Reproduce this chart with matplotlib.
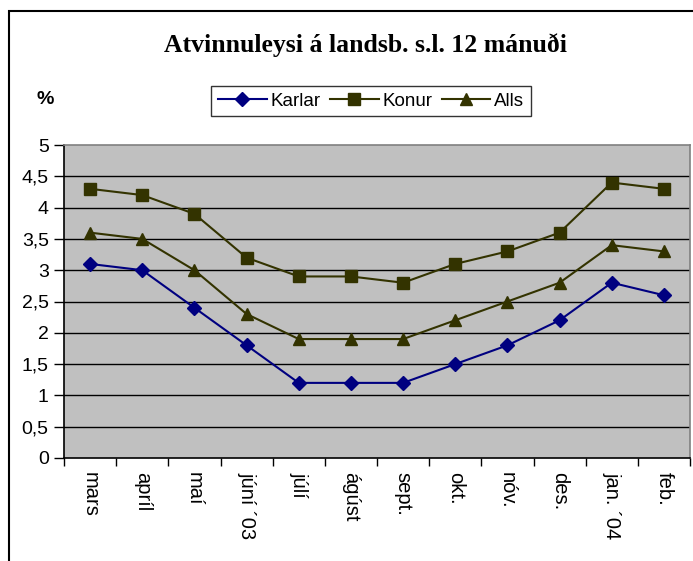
import matplotlib
matplotlib.use("Agg")
import matplotlib.pyplot as plt
from matplotlib.patches import Rectangle
import numpy as np

months = ["mars", "apríl", "maí", "júní ´03", "júlí", "ágúst", "sept.", "okt.", "nóv.", "des.", "jan. ´04", "feb."]
karlar = [3.1, 3.0, 2.4, 1.8, 1.2, 1.2, 1.2, 1.5, 1.8, 2.2, 2.8, 2.6]
konur = [4.3, 4.2, 3.9, 3.2, 2.9, 2.9, 2.8, 3.1, 3.3, 3.6, 4.4, 4.3]
alls = [3.6, 3.5, 3.0, 2.3, 1.9, 1.9, 1.9, 2.2, 2.5, 2.8, 3.4, 3.3]
yticks = [0, 0.5, 1, 1.5, 2, 2.5, 3, 3.5, 4, 4.5, 5]
ylabels = ["0", "0,5", "1", "1,5", "2", "2,5", "3", "3,5", "4", "4,5", "5"]

W, H = 693, 561
fig = plt.figure(figsize=(W/100, H/100), dpi=100)
fig.patch.set_facecolor("white")

# outer frame
fig.add_artist(Rectangle((9/W, -0.1), 2, 1.1 - 11/H, transform=fig.transFigure,
                         fill=False, edgecolor="black", linewidth=1.5))

ax = fig.add_axes([64/W, (H-458)/H, (690-64)/W, (458-145)/H])
ax.set_facecolor("#C0C0C0")
x = np.arange(len(months))

ax.plot(x, karlar, color="#000080", marker="D", markersize=7.5, linewidth=1.5, label="Karlar", zorder=3)
ax.plot(x, konur, color="#333300", marker="s", markersize=8, linewidth=1.5, label="Konur", zorder=3)
ax.plot(x, alls, color="#333300", marker="^", markersize=9, linewidth=1.5, label="Alls", zorder=3)

ax.set_xlim(-0.5, len(months) - 0.5)
ax.set_ylim(0, 5)
ax.set_yticks(yticks)
ax.set_yticklabels(ylabels, fontfamily="Liberation Sans", fontsize=14)
for yv in yticks[1:-1]:
    ax.axhline(yv, color="black", linewidth=1.0, zorder=1)

ax.set_xticks(np.arange(-0.5, len(months), 1.0))
ax.set_xticklabels([])
ax.tick_params(axis="x", direction="out", length=6, width=1, colors="black")
ax.tick_params(axis="y", direction="out", length=7, width=1, pad=4)
for i, m in enumerate(months):
    ax.text(i, -0.23, m, rotation=270, ha="center", va="top", fontsize=14.5,
            fontfamily="Liberation Sans", transform=ax.transData)

ax.spines["left"].set_color("black")
ax.spines["bottom"].set_color("black")
ax.spines["top"].set_color("#808080")
ax.spines["right"].set_color("#808080")
for s in ax.spines.values():
    s.set_linewidth(1.2)

fig.text(366/W, 1 - 45/H, "Atvinnuleysi á landsb. s.l. 12 mánuði", ha="center", va="center",
         fontfamily="Liberation Serif", fontweight="bold", fontsize=18.5)
fig.text(45/W, 1 - 100/H, "%", ha="center", va="center", fontfamily="Liberation Sans",
         fontweight="bold", fontsize=14)

leg = fig.legend(loc="center", bbox_to_anchor=(371/W, 1 - 101/H), ncol=3, frameon=True,
                 fancybox=False, edgecolor="black", handlelength=2.6, handletextpad=0.2,
                 columnspacing=0.5, borderpad=0.35, prop={"family": "Liberation Sans", "size": 13.5})
leg.get_frame().set_linewidth(1.0)

fig.savefig("out.png", dpi=100)
